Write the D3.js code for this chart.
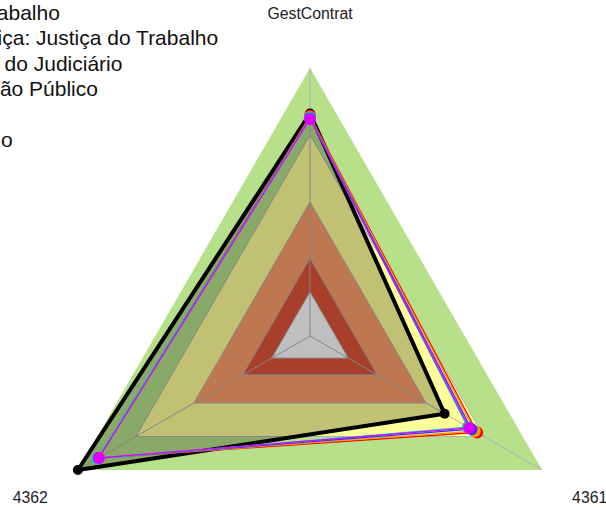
<!DOCTYPE html>
<html lang="pt">
<head>
<meta charset="UTF-8">
<title>Radar</title>
<style>
  body { margin: 0; background: #fff; }
  svg { display: block; font-family: Arial, "Liberation Sans", sans-serif; }
</style>
</head>
<body>
<script src="https://d3js.org/d3.v7.min.js"></script>
<script>
// axes of the radar, clockwise from the top
var axes = ["GestContrat", "4361", "4362"];

// background bands (upper limit of each band, 0-100)
var bandLimits = [16.5, 29, 50, 75, 100];
var bandColors = ["#fdfdfd", "#dd543a", "#fd9e69", "#ffff99", "#b6e08a"];

// series (legend order)
var seriesNames = ["Tribunal do Trabalho", "Ramo de Justiça: Justiça do Trabalho", "Setor: Órgãos do Judiciário",
                   "Natureza: Órgão Público", "Média geral", "Escore máximo"];
var seriesColors = ["#000000", "#ff0000", "#ff9900", "#3333ff", "#00cccc", "#dd00ff"];
var seriesValues = [
    [83, 58, 100],
    [82.2, 72, 91],
    [81.8, 71, 91],
    [81.5, 69.6, 91.3],
    [81.3, 68, 91.6],
    [81, 68.6, 91]
];

const width = 606, height = 510;
const cx = 310, cy = 336, radius = 268;

const svg = d3.select("body").append("svg")
    .attr("width", width)
    .attr("height", height);

const r = d3.scaleLinear().domain([0, 100]).range([0, radius]);
const angle = d3.scaleLinear().domain([0, axes.length]).range([-Math.PI / 2, 3 * Math.PI / 2]);

function pt(i, v) {
    var a = angle(i);
    return [cx + r(v) * Math.cos(a), cy + r(v) * Math.sin(a)];
}
function poly(vals) {
    return vals.map(function(v, i) { return pt(i, v).join(","); }).join(" ");
}

// bands, outermost first
var bands = bandLimits.map(function(l, i) { return {limit: l, color: bandColors[i]}; }).reverse();
svg.append("g").selectAll("polygon")
    .data(bands)
    .enter().append("polygon")
    .attr("points", function(d) { return poly(axes.map(function() { return d.limit; })); })
    .attr("fill", function(d) { return d.color; });

// grid lines
var grid = svg.append("g").attr("stroke", "#b0b0b0").attr("stroke-width", 1).attr("fill", "none");
grid.selectAll("polygon")
    .data(bandLimits.slice(0, -1))
    .enter().append("polygon")
    .attr("points", function(d) { return poly(axes.map(function() { return d; })); });
grid.selectAll("line")
    .data(axes)
    .enter().append("line")
    .attr("x1", cx).attr("y1", cy)
    .attr("x2", function(d, i) { return pt(i, 100)[0]; })
    .attr("y2", function(d, i) { return pt(i, 100)[1]; });

// axis labels
svg.append("g").selectAll("text")
    .data(axes)
    .enter().append("text")
    .attr("x", function(d, i) { return pt(i, 120.5)[0]; })
    .attr("y", function(d, i) { return pt(i, 120.5)[1]; })
    .attr("text-anchor", "middle")
    .attr("dominant-baseline", "central")
    .attr("font-size", 15.8)
    .attr("fill", "#222")
    .text(function(d) { return d; });

// reference series (black) with shaded fill
svg.append("polygon")
    .attr("points", poly(seriesValues[0]))
    .attr("fill", "#000")
    .attr("fill-opacity", 0.245)
    .attr("stroke", "#000")
    .attr("stroke-width", 4)
    .attr("stroke-linejoin", "round");
svg.append("g").selectAll("circle")
    .data(seriesValues[0])
    .enter().append("circle")
    .attr("cx", function(d, i) { return pt(i, d)[0]; })
    .attr("cy", function(d, i) { return pt(i, d)[1]; })
    .attr("r", 5)
    .attr("fill", "#000");

// other series
var order = [1, 2, 3, 4, 5];
order.forEach(function(s) {
    var g = svg.append("g");
    g.append("polygon")
        .attr("points", poly(seriesValues[s]))
        .attr("fill", "none")
        .attr("stroke", seriesColors[s])
        .attr("stroke-width", 1.3);
    g.selectAll("circle")
        .data(seriesValues[s])
        .enter().append("circle")
        .attr("cx", function(d, i) { return pt(i, d)[0]; })
        .attr("cy", function(d, i) { return pt(i, d)[1]; })
        .attr("r", 6)
        .attr("fill", seriesColors[s]);
});

// legend (runs off the left edge)
svg.append("g").selectAll("text")
    .data(seriesNames)
    .enter().append("text")
    .attr("x", -132)
    .attr("y", function(d, i) { return 20 + i * 25.3; })
    .attr("font-size", 21)
    .attr("fill", "#111")
    .text(function(d) { return d; });
</script>
</body>
</html>
